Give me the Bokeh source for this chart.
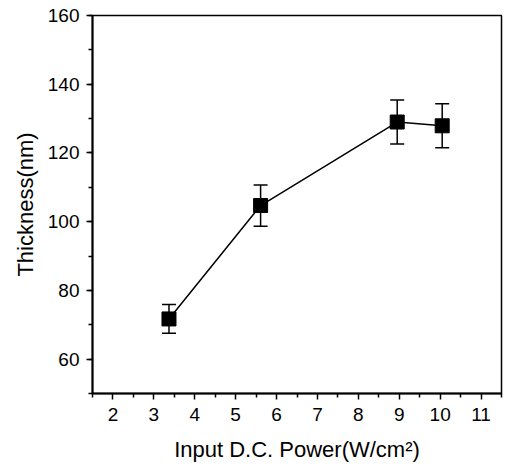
from bokeh.plotting import figure
from bokeh.models import ColumnDataSource, Whisker, TeeHead, Range1d, FixedTicker
from bokeh.embed import file_html
from bokeh.resources import INLINE

power = [3.37, 5.61, 8.95, 10.05]
thickness = [71.7, 104.7, 129.0, 127.9]
err = [4.2, 6.0, 6.4, 6.4]
x_ticks = [2, 3, 4, 5, 6, 7, 8, 9, 10, 11]
y_ticks = [60, 80, 100, 120, 140, 160]

src = ColumnDataSource(dict(
    x=power, y=thickness,
    lo=[t - e for t, e in zip(thickness, err)],
    hi=[t + e for t, e in zip(thickness, err)],
))

p = figure(width=508, height=473, output_backend="svg", toolbar_location=None,
           x_range=Range1d(1.5, 11.5), y_range=Range1d(50, 160),
           min_border_left=92, min_border_right=7, min_border_top=15, min_border_bottom=80)
p.background_fill_color = "white"
p.border_fill_color = "white"
p.grid.visible = False
p.outline_line_color = "black"
p.outline_line_width = 1.5

FONT = "Liberation Sans"
for ax in (p.xaxis[0], p.yaxis[0]):
    ax.axis_line_color = "black"
    ax.axis_line_width = 2
    ax.major_tick_line_color = "black"
    ax.minor_tick_line_color = "black"
    ax.major_tick_line_width = 1.5
    ax.minor_tick_line_width = 1.5
    ax.major_tick_out = 6
    ax.major_tick_in = 0
    ax.minor_tick_out = 4
    ax.minor_tick_in = 0
    ax.major_label_text_font = FONT
    ax.major_label_text_font_size = "19px"
    ax.major_label_text_color = "black"
    ax.axis_label_text_font = FONT
    ax.axis_label_text_font_size = "22px"
    ax.axis_label_text_font_style = "normal"
    ax.axis_label_text_color = "black"

p.xaxis.ticker = FixedTicker(ticks=x_ticks, minor_ticks=[x + 0.5 for x in range(1, 12)])
p.yaxis.ticker = FixedTicker(ticks=y_ticks, minor_ticks=list(range(50, 161, 10)))
p.xaxis.axis_label = "Input D.C. Power(W/cm²)"
p.yaxis.axis_label = "Thickness(nm)"
p.xaxis.major_label_standoff = 8
p.yaxis.major_label_standoff = 7
p.xaxis.axis_label_standoff = 13
p.yaxis.axis_label_standoff = 7

p.line("x", "y", source=src, line_color="black", line_width=1.5)
w = Whisker(source=src, base="x", lower="lo", upper="hi", line_color="black", line_width=1.5,
            lower_head=TeeHead(size=14, line_color="black", line_width=1.5),
            upper_head=TeeHead(size=14, line_color="black", line_width=1.5))
p.add_layout(w)
p.scatter("x", "y", source=src, marker="square", size=14, fill_color="black", line_color="black")

open("out.html", "w").write(file_html(p, INLINE))
